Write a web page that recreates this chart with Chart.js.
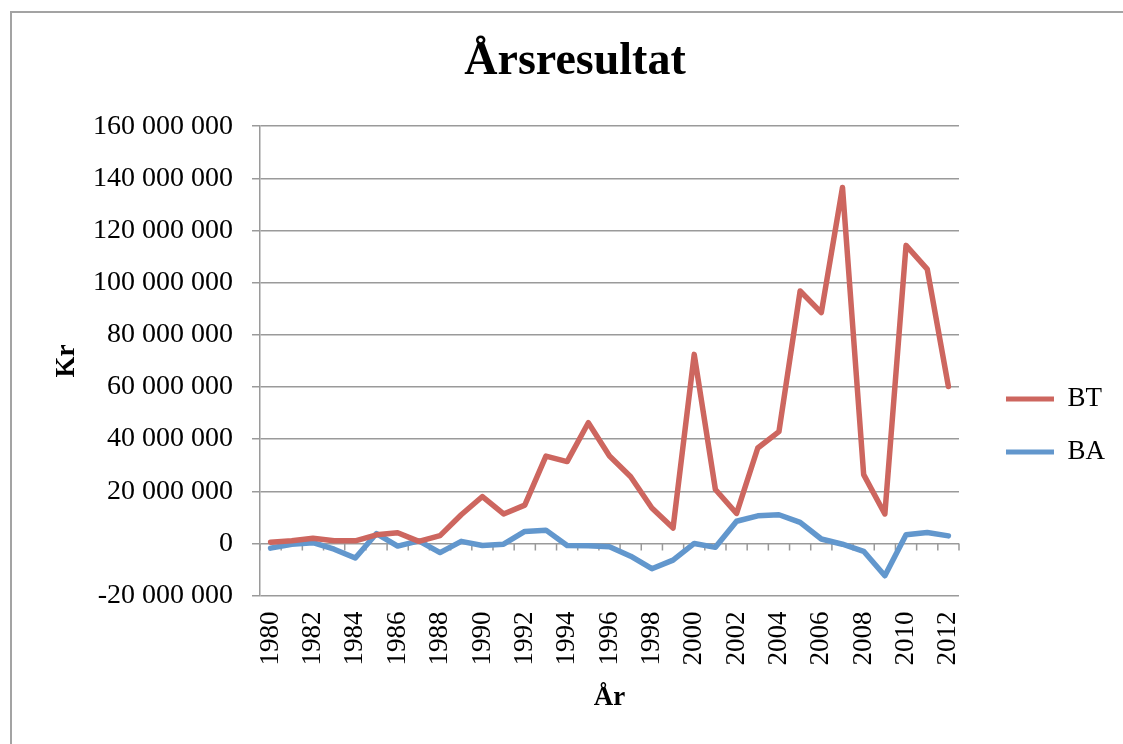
<!DOCTYPE html>
<html>
<head>
<meta charset="utf-8">
<script src="https://cdn.jsdelivr.net/npm/chart.js@4.4.1/dist/chart.umd.min.js"></script>
<style>
  html, body { margin: 0; padding: 0; background: #ffffff; overflow: hidden; }
  #wrap { position: relative; width: 1123px; height: 744px; }
  #frame { position: absolute; left: 10px; top: 11px; width: 1300px; height: 900px;
           border-top: 2px solid #a3a3a3; border-left: 2px solid #a3a3a3; box-sizing: border-box; }
  canvas { position: absolute; left: 0; top: 0; }
</style>
</head>
<body>
<div id="wrap">
  <div id="frame"></div>
  <canvas id="c" width="1123" height="744"></canvas>
</div>
<script>
const chartTitle = 'Årsresultat';
const xAxisTitle = 'År';
const yAxisTitle = 'Kr';
const years = ['1980','1981','1982','1983','1984','1985','1986','1987','1988','1989','1990',
  '1991','1992','1993','1994','1995','1996','1997','1998','1999','2000',
  '2001','2002','2003','2004','2005','2006','2007','2008','2009','2010','2011','2012'];
const seriesNames = ['BT', 'BA'];
const btValues = [500000, 1000000, 2000000, 1000000, 1000000, 3300000, 4100000, 800000, 3000000, 11000000, 18000000,
  11300000, 14700000, 33500000, 31400000, 46300000, 33500000, 25600000, 13600000, 5900000, 72500000,
  20700000, 11500000, 36600000, 42900000, 96800000, 88500000, 136500000, 26400000, 11300000, 114300000, 105200000, 60200000];
const baValues = [-1800000, -300000, 300000, -2200000, -5600000, 3800000, -1000000, 1000000, -3500000, 800000, -800000,
  -300000, 4600000, 5100000, -800000, -900000, -1300000, -4900000, -9700000, -6400000, 0,
  -1500000, 8500000, 10600000, 11000000, 8100000, 1700000, -300000, -3000000, -12400000, 3300000, 4200000, 2900000];
const yMin = -20000000, yMax = 160000000, yStep = 20000000;

const serif = "'Liberation Serif', 'Times New Roman', serif";
const gridGray = '#9a9a9a';

function fmt(v) {
  const s = Math.abs(Math.round(v)).toString().replace(/\B(?=(\d{3})+(?!\d))/g, ' ');
  return (v < 0 ? '-' : '') + s;
}

const catTicks = {
  id: 'catTicks',
  beforeDatasetsDraw(chart) {
    const x = chart.scales.x, y = chart.scales.y;
    const ctx = chart.ctx;
    const y0 = y.getPixelForValue(0);
    const half = (x.getPixelForValue(1) - x.getPixelForValue(0)) / 2;
    ctx.save();
    ctx.strokeStyle = gridGray;
    ctx.lineWidth = 1.5;
    ctx.beginPath();
    for (let i = 0; i <= years.length; i++) {
      const px = i < years.length ? x.getPixelForValue(i) - half : x.getPixelForValue(years.length - 1) + half;
      ctx.moveTo(px, y0);
      ctx.lineTo(px, y0 + 7);
    }
    ctx.stroke();
    ctx.restore();
  }
};

new Chart(document.getElementById('c'), {
  type: 'line',
  data: {
    labels: years,
    datasets: [
      { label: seriesNames[0], data: btValues, borderColor: '#CD665F', backgroundColor: '#CD665F',
        borderWidth: 5.5, pointRadius: 0, tension: 0, borderCapStyle: 'round', borderJoinStyle: 'round' },
      { label: seriesNames[1], data: baValues, borderColor: '#6297CD', backgroundColor: '#6297CD',
        borderWidth: 5.5, pointRadius: 0, tension: 0, borderCapStyle: 'round', borderJoinStyle: 'round' }
    ]
  },
  options: {
    responsive: false,
    animation: false,
    devicePixelRatio: 1,
    layout: { padding: { left: 35, top: 10, right: 8, bottom: 30 } },
    plugins: {
      title: {
        display: true, text: chartTitle, color: '#000',
        font: { family: serif, size: 46, weight: 'bold' },
        padding: { top: 25, bottom: 36 }
      },
      legend: {
        position: 'right',
        title: { display: true, text: ' ', font: { size: 1 }, padding: { top: 63, bottom: 63 } },
        labels: {
          color: '#000',
          font: { family: serif, size: 27 },
          boxWidth: 48, boxHeight: 5, padding: 26,
          generateLabels(chart) {
            return chart.data.datasets.map((d, i) => ({
              text: d.label, fillStyle: d.borderColor, strokeStyle: d.borderColor,
              lineWidth: 0, hidden: false, datasetIndex: i, fontColor: '#000'
            }));
          }
        }
      },
      tooltip: { enabled: false }
    },
    scales: {
      x: {
        type: 'category',
        offset: true,
        grid: { display: false, drawTicks: false },
        border: { display: false },
        ticks: {
          autoSkip: false, maxRotation: 90, minRotation: 90, padding: 16, color: '#000',
          font: { family: serif, size: 27 },
          callback(v, i) { return i % 2 === 0 ? years[i] : ''; }
        },
        title: { display: true, text: xAxisTitle, color: '#000',
          font: { family: serif, size: 27, weight: 'bold' }, padding: { top: 0, bottom: 0 } }
      },
      y: {
        min: yMin, max: yMax,
        grid: { color: gridGray, lineWidth: 1.5, tickLength: 8, drawTicks: true },
        border: { display: true, color: gridGray, width: 1.5 },
        ticks: { stepSize: yStep, padding: 19, color: '#000',
          font: { family: serif, size: 28 }, callback: v => fmt(v) },
        title: { display: true, text: yAxisTitle, color: '#000',
          font: { family: serif, size: 27, weight: 'bold' }, padding: { top: 16, bottom: 10 } },
        afterFit(scale) { scale.width = 225; }
      },
      gap: {
        type: 'linear', position: 'right', display: true,
        grid: { display: false, drawTicks: false }, border: { display: false },
        ticks: { display: false }, title: { display: false },
        afterFit(scale) { scale.width = 21; }
      }
    }
  },
  plugins: [catTicks]
});
</script>
</body>
</html>
